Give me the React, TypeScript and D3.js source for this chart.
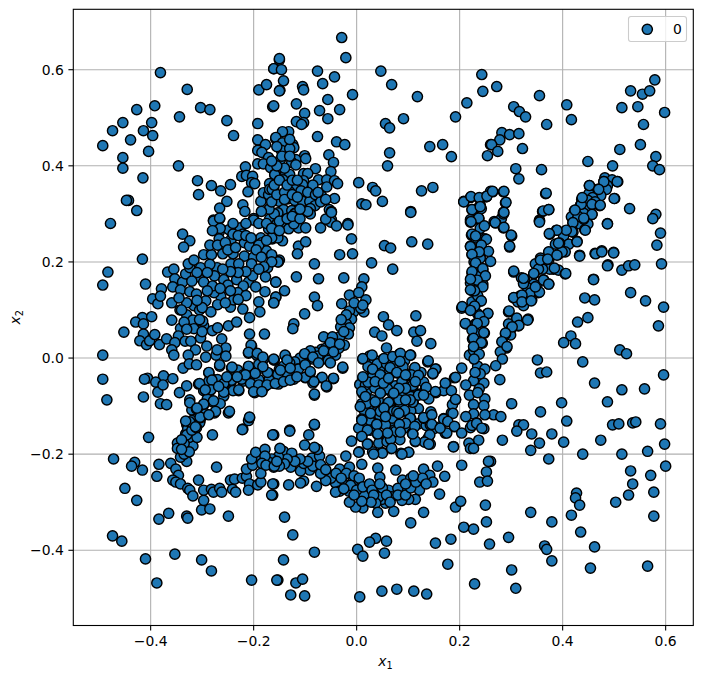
import React from "react";
import * as d3 from "d3";

const seriesLabel = "0";
const xTicks = [-0.4, -0.2, 0, 0.2, 0.4, 0.6];
const yTicks = [-0.4, -0.2, 0, 0.2, 0.4, 0.6];

const upperLeft = [[-.381,.594],[-.329,.559],[-.392,.525],[-.427,.517],[-.303,.521],[-.285,.517],[-.344,.502],[-.454,.49],[-.398,.49],[-.474,.473],[-.414,.473],[-.396,.463],[-.252,.494],[-.239,.463],[-.439,.454],[-.493,.442],[-.404,.43],[-.454,.417],[-.454,.395],[-.346,.4],[-.415,.375],[-.309,.369],[-.307,.34],[-.282,.359],[-.264,.348],[-.245,.361],[-.443,.328],[-.447,.328],[-.427,.307],[-.252,.326],[-.266,.312],[-.221,.319],[-.217,.305],[-.478,.28],[-.278,.287],[-.266,.29],[-.2,.29],[-.216,.398],[-.192,.488],[-.192,.454],[-.177,.444],[-.192,.432],[-.184,.428],[-.171,.417],[-.192,.404],[-.181,.404],[-.167,.396],[-.159,.382],[-.223,.378],[-.214,.38],[-.202,.378],[-.204,.365],[-.198,.363],[-.211,.346],[-.186,.326],[-.181,.344],[-.169,.363],[-.171,.34],[-.161,.353],[-.169,.351],[-.163,.523],[-.19,.558],[-.175,.569],[-.161,.602],[-.15,.62],[-.149,.557],[-.157,.456]];

const upperMiddle = [[-.029,.667],[-.021,.625],[-.15,.623],[-.161,.602],[-.146,.6],[-.142,.577],[-.15,.556],[-.076,.597],[-.043,.585],[-.066,.571],[-.105,.565],[-.103,.558],[-.056,.538],[-.008,.548],[-.117,.529],[-.161,.525],[-.072,.515],[-.033,.517],[-.101,.509],[-.056,.498],[-.117,.492],[-.103,.49],[-.107,.486],[-.132,.471],[-.144,.471],[-.157,.459],[-.076,.461],[-.039,.45],[-.023,.444],[-.144,.448],[-.146,.432],[-.124,.444],[-.122,.438],[-.13,.436],[-.054,.423],[-.148,.413],[-.101,.421],[-.118,.413],[-.099,.415],[-.126,.407],[-.118,.402],[-.045,.407],[-.08,.394],[-.05,.388],[-.159,.382],[-.138,.386],[-.103,.384],[-.095,.384],[-.13,.382],[-.143,.371],[-.103,.369],[-.074,.371],[-.058,.371],[-.043,.369],[-.037,.363],[-.058,.356],[-.087,.357],[-.105,.361],[-.118,.353],[-.13,.346],[-.108,.348],[-.068,.337],[-.043,.332],[-.164,.351],[-.15,.326],[-.134,.331],[-.12,.328],[-.105,.326],[-.091,.326],[-.081,.317],[-.09,.311],[-.053,.309],[-.049,.305],[-.142,.309],[-.126,.307],[-.12,.301],[-.154,.301],[-.059,.288],[-.049,.288],[-.017,.28],[.047,.597],[.068,.569],[.118,.544],[.214,.531],[.245,.555],[.243,.59],[.192,.502],[.091,.498],[.056,.488],[.064,.479],[.167,.444],[.142,.44],[.184,.419],[.064,.427],[.06,.4],[.254,.421],[.26,.444],[.004,.365],[.031,.355],[.037,.348],[.126,.348],[.148,.355],[.01,.321],[.018,.319],[.05,.326],[.105,.305],[.208,.326],[.221,.334],[.224,.309],[.239,.332],[.237,.313],[.24,.318],[.252,.336],[.221,.288],[.237,.29],[.26,.347]];

const upperRight = [[.272,.565],[.355,.546],[.408,.527],[.305,.523],[.316,.513],[.328,.502],[.417,.496],[.369,.486],[.282,.469],[.297,.465],[.315,.467],[.278,.454],[.262,.444],[.322,.436],[.274,.43],[.309,.394],[.315,.373],[.359,.392],[.449,.409],[.497,.4],[.511,.434],[.551,.444],[.581,.419],[.575,.4],[.588,.392],[.579,.579],[.532,.556],[.555,.549],[.569,.556],[.515,.521],[.546,.523],[.598,.511],[.557,.486],[.367,.342],[.501,.332],[.53,.311],[.373,.309],[.361,.305],[.355,.287],[.487,.28],[.581,.299],[.575,.29],[.264,.346],[.285,.346],[.252,.336],[.289,.323],[.285,.303],[.267,.284],[.281,.29],[.242,.311]];

const diagonalBand = [[.482,.375],[.496,.371],[.507,.367],[.48,.367],[.452,.359],[.468,.351],[.487,.359],[.485,.351],[.451,.342],[.474,.338],[.437,.33],[.458,.334],[.435,.319],[.458,.319],[.472,.317],[.445,.311],[.423,.307],[.457,.299],[.441,.301],[.417,.294],[.429,.29],[.449,.328],[.463,.325],[.42,.281],[.433,.279],[.443,.267],[.449,.279],[.441,.289],[.43,.295],[.42,.262],[.406,.262],[.375,.258],[.388,.266],[.402,.254],[.412,.237],[.386,.237],[.394,.239],[.405,.221],[.391,.215],[.373,.22],[.373,.204],[.357,.208],[.355,.2],[.347,.196],[.382,.185],[.375,.185],[.392,.183],[.405,.175],[.361,.185],[.353,.185],[.363,.163],[.373,.154],[.344,.175],[.344,.154],[.353,.136],[.338,.133],[.332,.146],[.32,.117],[.305,.125],[.317,.129],[.313,.117],[.324,.109],[.34,.121],[.35,.15],[.305,.179],[.32,.167],[.326,.163],[.324,.155],[.295,.096],[.31,.081],[.314,.067],[.295,.071],[.301,.063],[.299,.048],[.289,.05],[.283,.034],[.291,.021],[.279,.013],[.283,-.002],[.27,-.016]];

const diagonalExtra = [[.452,.359],[.48,.367],[.506,.367],[.47,.351],[.436,.32],[.438,.334],[.457,.32],[.473,.318],[.5,.332],[.424,.308],[.457,.299],[.441,.291],[.42,.282],[.418,.263],[.444,.266],[.428,.243],[.407,.266],[.399,.221],[.389,.266],[.374,.259],[.392,.239],[.373,.221],[.357,.204],[.371,.206],[.389,.214],[.406,.176],[.384,.187],[.363,.162],[.373,.154],[.344,.176],[.305,.181],[.324,.166],[.337,.135],[.355,.137],[.347,.148],[.305,.126],[.321,.131],[.321,.117],[.339,.119],[.296,.098],[.333,.081],[.311,.083],[.315,.068],[.302,.065],[.289,.052],[.282,.034],[.292,.024],[.368,.343],[.362,.306],[.373,.309],[.355,.285],[.433,.214],[.463,.218],[.476,.223],[.499,.22],[.488,.194],[.46,.164]];

const rightSparse = [[.59,.26],[.583,.235],[.487,.279],[.355,.283],[.27,.281],[.285,.271],[.301,.254],[.297,.231],[.285,.3],[.428,.242],[.433,.212],[.464,.217],[.476,.221],[.499,.219],[.487,.192],[.515,.183],[.528,.192],[.54,.194],[.592,.196],[.46,.163],[.532,.136],[.561,.119],[.596,.106],[.443,.125],[.462,.121],[.449,.084],[.429,.075],[.586,.067],[.332,.079],[.416,.046],[.402,.032],[.425,.03],[.511,.017],[.524,.009],[.351,-.004],[.439,-.008],[.357,-.031],[.369,-.029],[.596,-.035],[.462,-.052],[.278,-.045],[.559,-.064],[.515,-.066],[.301,-.095],[.487,-.091],[.398,-.093],[.357,-.112],[.408,-.131],[.266,-.118],[.28,-.122],[.315,-.139],[.324,-.139],[.497,-.139],[.509,-.137],[.536,-.135],[.542,-.133],[.59,-.137]];

const lowerRight = [[.283,-.171],[.311,-.152],[.34,-.158],[.355,-.177],[.379,-.158],[.402,-.175],[.474,-.171],[.439,-.2],[.338,-.192],[.373,-.21],[.515,-.2],[.565,-.194],[.598,-.179],[.6,-.225],[.532,-.235],[.571,-.244],[.536,-.262],[.528,-.285],[.577,-.279],[.503,-.3],[.427,-.281],[.425,-.291],[.433,-.306],[.417,-.327],[.577,-.329],[.338,-.321],[.379,-.341],[.435,-.362],[.295,-.373],[.365,-.391],[.369,-.398],[.462,-.393],[.379,-.422],[.454,-.437],[.565,-.433],[.301,-.441],[.309,-.479],[.26,-.215]];

const verticalBand = [[.221,.283],[.237,.29],[.223,.256],[.237,.254],[.231,.25],[.24,.27],[.249,.248],[.241,.233],[.221,.233],[.224,.215],[.241,.217],[.231,.198],[.245,.183],[.224,.177],[.233,.158],[.221,.156],[.245,.154],[.225,.14],[.229,.138],[.241,.119],[.224,.117],[.229,.106],[.254,.092],[.235,.092],[.24,.086],[.231,.071],[.212,.071],[.241,.075],[.231,.052],[.248,.052],[.225,.04],[.244,.031],[.233,.021],[.219,.006],[.227,.016],[.235,-.017],[.204,-.021],[.249,-.023],[.227,-.047],[.247,-.052],[.212,-.056],[.238,-.064],[.219,-.077],[.249,-.085],[.235,-.072],[.227,-.097],[.247,-.099],[.249,-.118],[.227,-.116],[.212,-.122],[.233,-.135],[.221,-.145],[.247,-.147],[.204,.104],[.222,.1],[.235,.13],[.228,.165],[.238,.17],[.228,.2],[.24,.208],[.228,.225],[.232,.03],[.238,.008],[.228,-.002],[.24,-.033],[.23,-.03]];

const verticalExtra = [[.208,.325],[.222,.336],[.238,.334],[.253,.337],[.264,.347],[.286,.347],[.29,.324],[.286,.303],[.269,.282],[.286,.272],[.3,.256],[.297,.233],[.224,.309],[.24,.315],[.237,.291],[.222,.284],[.248,.275],[.224,.258],[.231,.254],[.252,.247],[.242,.235],[.221,.232],[.256,.222],[.238,.221],[.224,.216],[.26,.201],[.231,.198],[.245,.186],[.224,.18],[.25,.171],[.234,.162],[.221,.164],[.245,.148],[.229,.14],[.221,.142],[.242,.119],[.229,.108],[.205,.107],[.221,.099],[.255,.093],[.239,.088],[.211,.072],[.247,.076],[.234,.072],[.224,.058],[.247,.053],[.227,.041],[.242,.032],[.227,.024]];

const centreArc = [[.105,.303],[.054,.234],[.066,.229],[.107,.242],[.138,.237],[-.017,.277],[-.01,.248],[-.008,.217],[-.033,.215],[.029,.198],[.07,.185],[-.082,.196],[-.025,.167],[-.074,.165],[-.117,.169],[-.157,.158],[-.14,.14],[-.157,.127],[-.161,.115],[-.082,.127],[-.076,.109],[-.029,.113],[-.014,.131],[-.101,.092],[-.122,.071],[-.124,.061],[.014,.165],[.01,.148],[.004,.136],[.018,.121],[.014,.096],[-.006,.096],[-.014,.098],[.008,.104],[-.01,.081],[-.02,.071],[-.014,.063],[-.031,.065],[-.016,.05],[-.033,.044],[-.035,.027],[-.052,.034],[-.064,.044],[-.047,.044],[-.024,.027],[-.064,.012],[-.052,.006],[-.068,.018],[-.041,.006],[-.101,.006],[-.085,-.002],[-.138,.004],[-.16,-.004],[.052,.086],[.062,.069],[.078,.057],[.115,.088],[.111,.054],[.124,.057],[.117,.035],[.144,.03],[.035,.054],[.049,.046],[.058,.021],[-.027,-.021],[-.045,-.043],[-.068,-.041],[-.058,-.06],[-.082,-.077],[-.082,-.139],[-.13,-.15],[-.147,.281],[-.132,.269],[-.113,.271],[-.099,.271],[-.122,.279],[-.07,.271],[-.05,.283],[-.06,.289],[-.039,.275],[-.049,.303],[-.09,.3],[-.12,.3],[-.153,.302],[-.144,.244],[-.113,.233],[-.099,.242],[-.115,.217],[-.15,.204],[-.152,.2],[-.157,.258],[-.164,.248],[-.02,.09],[-.03,.08],[-.025,.055],[-.045,.03],[-.06,.02],[-.08,.012],[-.09,.015],[-.11,0],[-.12,-.008],[-.13,-.01],[-.075,.004],[-.055,-.005],[-.035,.02],[-.005,.115],[.012,.11]];

const centreBlock = [[.012,-.002],[.025,.004],[.035,-.004],[.052,-.002],[.068,-.004],[.083,.008],[.105,.006],[.138,-.008],[.113,-.021],[.093,-.006],[.154,-.023],[.148,-.033],[.19,-.041],[.173,-.053],[.154,-.072],[.134,-.062],[.169,-.068],[.184,-.068],[.192,-.087],[.184,-.114],[.186,-.097],[.169,-.126],[.144,-.112],[.13,-.126],[.012,-.041],[.021,-.052],[.029,-.025],[.049,-.025],[.064,-.025],[.078,-.031],[.105,-.037],[.097,-.033],[.116,-.043],[.088,-.05],[.043,-.05],[.06,-.066],[.047,-.072],[.109,-.06],[.091,-.072],[.11,-.093],[.08,-.089],[.064,-.093],[.029,-.089],[.012,-.074],[.01,-.095],[.052,-.106],[.072,-.112],[.093,-.112],[.01,-.128],[.039,-.136],[.064,-.126],[.083,-.139],[.105,-.126],[.12,-.137],[.15,-.147],[.162,-.143],[.023,-.106],[.035,-.114],[.052,-.126],[.015,-.11],[.006,-.055],[.022,-.018],[.04,-.012],[.058,-.012],[.075,-.016],[.09,-.018],[.02,-.068],[.035,-.062],[.075,-.058],[.09,-.052],[.125,-.03],[.13,-.05],[.122,-.075],[.14,-.085],[.105,-.08],[.042,-.088],[.07,-.075],[.03,-.04],[.06,-.045],[.085,-.1],[.12,-.105],[.105,-.11],[.045,-.12],[.025,-.13],[.07,-.14],[.1,-.145],[.135,-.14]];

const centreExtra = [[.012,-.001],[.03,.006],[.053,-.001],[.07,.003],[.085,.01],[.104,.006],[.084,-.007],[.139,-.006],[.113,-.02],[.153,-.023],[.148,-.032],[.192,-.04],[.172,-.052],[.153,-.07],[.135,-.061],[.192,-.086],[.187,-.115],[.169,-.127],[.19,-.143],[.172,-.156],[.188,-.184],[.143,-.139],[.13,-.125],[.143,-.179],[.133,-.174],[.139,-.166],[.114,-.174],[.108,-.156],[.101,-.196],[.086,-.198],[.067,-.188],[.084,-.17],[.065,-.167],[.059,-.162],[.041,-.159],[.022,-.179],[.01,-.163],[.031,-.195],[.049,-.196],[.005,-.195],[.04,-.138],[.084,-.138],[.104,-.125],[.109,-.158],[.073,-.15],[.069,-.125],[.093,-.109],[.072,-.11],[.046,-.111],[.03,-.087],[.01,-.127],[.02,-.094],[.017,-.056],[.022,-.05],[.012,-.039],[.031,-.023],[.046,-.035],[.065,-.02],[.078,-.03],[.088,-.049],[.106,-.035],[.12,-.036],[.109,-.057],[.06,-.064],[.046,-.073],[.082,-.087],[.062,-.092],[.109,-.092],[.13,-.124],[.12,-.077],[.095,-.063],[.13,-.077],[.01,-.07],[.007,-.101],[.027,-.115],[.056,-.139],[.082,-.063],[.072,-.073],[.036,-.049],[.052,-.052],[.062,-.042],[.095,-.035],[.114,-.049],[.017,-.08],[.036,-.091],[.053,-.104],[.078,-.111],[.095,-.136],[.075,-.153],[.056,-.122],[.027,-.15],[.014,-.146],[.043,-.177],[.059,-.174],[.004,-.146],[.146,-.118],[.104,-.087],[.095,-.087],[.082,-.115]];

const lowerArc = [[.01,-.129],[.039,-.138],[.083,-.138],[.113,-.142],[.146,-.138],[.177,-.132],[.19,-.142],[.204,-.156],[.224,-.14],[.233,-.136],[.243,-.146],[.237,-.171],[.218,-.177],[.221,-.188],[.227,-.188],[.188,-.185],[.175,-.156],[.162,-.146],[.142,-.16],[.132,-.175],[.14,-.179],[.114,-.173],[.109,-.158],[.085,-.154],[.066,-.169],[.06,-.156],[.041,-.158],[.021,-.15],[.01,-.163],[-.01,-.173],[.021,-.179],[.05,-.198],[.033,-.2],[.004,-.196],[.101,-.196],[.088,-.2],[.068,-.188],[-.021,-.204],[-.05,-.212],[-.033,-.231],[-.014,-.227],[.01,-.221],[.041,-.229],[.076,-.233],[.045,-.248],[.13,-.231],[.157,-.225],[.142,-.244],[.148,-.258],[.171,-.246],[.161,-.283],[.089,-.254],[.105,-.25],[.12,-.264],[.093,-.275],[.062,-.275],[.08,-.271],[.122,-.275],[.114,-.294],[.101,-.294],[.088,-.296],[.072,-.319],[.068,-.289],[.056,-.302],[.049,-.294],[.041,-.277],[.043,-.289],[.037,-.302],[.041,-.321],[.023,-.294],[.014,-.285],[.012,-.312],[-.002,-.31],[-.014,-.3],[-.006,-.271],[.004,-.26],[-.008,-.258],[-.027,-.26],[-.041,-.26],[-.033,-.277],[-.015,-.277],[-.041,-.279],[-.064,-.244],[-.078,-.267],[-.047,-.244],[-.091,-.233],[-.109,-.235],[-.128,-.227],[-.148,-.21],[-.142,-.194],[-.126,-.198],[-.103,-.219],[-.087,-.208],[-.072,-.204],[-.101,-.181],[-.076,-.19],[-.082,-.186],[-.161,-.227],[-.103,-.256],[-.109,-.26],[-.132,-.264],[-.161,-.262],[-.163,-.285],[-.161,-.16],[-.13,-.152],[-.093,-.16],[-.082,-.138]];

const lowerArcExtra = [[-.02,-.24],[-.005,-.245],[.005,-.25],[-.012,-.265],[0,-.275],[.012,-.268],[.025,-.262],[.03,-.275],[.033,-.285],[.05,-.27],[.058,-.285],[.065,-.3],[.08,-.285],[.095,-.285],[.105,-.27],[.115,-.258],[.128,-.25],[.135,-.262],[.11,-.245],[.095,-.262],[.045,-.262],[.028,-.3],[.01,-.298],[-.005,-.285],[-.025,-.272],[-.05,-.25],[-.06,-.255],[-.07,-.24],[-.085,-.225],[-.095,-.215],[-.11,-.21],[-.12,-.215],[-.135,-.21],[-.14,-.22],[-.15,-.225],[-.07,-.222],[-.06,-.232],[-.04,-.24],[-.03,-.25],[-.152,-.205],[-.165,-.21],[-.17,-.217],[-.185,-.21]];

const bottomSparse = [[.13,-.321],[.105,-.343],[.058,-.381],[.037,-.375],[.025,-.383],[.054,-.406],[.002,-.398],[.012,-.412],[.153,-.385],[.183,-.377],[.208,-.352],[.227,-.356],[.192,-.31],[.202,-.298],[.204,-.223],[.252,-.237],[.239,-.258],[.254,-.256],[.25,-.306],[.252,-.341],[.258,-.387],[.177,-.429],[.229,-.47],[.136,-.491],[.111,-.485],[.078,-.481],[.049,-.485],[.006,-.497],[-.101,-.495],[-.128,-.493],[-.118,-.468],[-.105,-.46],[-.153,-.462],[-.142,-.42],[-.082,-.404],[-.124,-.368],[-.14,-.331],[.256,-.215]];

const lowerLeft = [[-.404,-.165],[-.472,-.21],[-.431,-.217],[-.437,-.225],[-.416,-.233],[-.384,-.221],[-.388,-.246],[-.45,-.271],[-.427,-.296],[-.474,-.37],[-.456,-.381],[-.41,-.418],[-.353,-.408],[-.388,-.468],[-.365,-.323],[-.384,-.335],[-.33,-.329],[-.328,-.333],[-.301,-.316],[-.285,-.314],[-.297,-.296],[-.249,-.329],[-.301,-.42],[-.282,-.443],[-.204,-.462],[-.155,-.462],[-.361,-.219],[-.351,-.231],[-.346,-.244],[-.357,-.254],[-.351,-.258],[-.342,-.262],[-.328,-.271],[-.324,-.275],[-.318,-.287],[-.307,-.254],[-.297,-.275],[-.282,-.273],[-.278,-.279],[-.266,-.271],[-.262,-.279],[-.245,-.254],[-.237,-.252],[-.241,-.273],[-.235,-.279],[-.222,-.25],[-.214,-.246],[-.208,-.262],[-.21,-.275],[-.192,-.264],[-.186,-.258],[-.186,-.24],[-.214,-.231],[-.202,-.223],[-.204,-.21],[-.196,-.196],[-.178,-.19],[-.178,-.204],[-.184,-.219],[-.176,-.223],[-.16,-.225],[-.155,-.215],[-.163,-.262],[-.165,-.285],[-.272,-.227],[-.28,-.16],[-.221,-.148],[-.163,-.16],[-.33,-.215],[-.342,-.206],[-.318,-.183],[-.334,-.192],[-.348,-.177],[-.348,-.188],[-.332,-.158],[-.315,-.158],[-.314,-.144],[-.33,-.138],[-.328,-.147],[-.325,-.165],[-.335,-.178],[-.149,-.188],[-.21,-.13],[-.304,-.13],[-.31,-.12],[-.32,-.13],[-.305,-.135],[-.32,-.108],[-.33,-.16],[-.34,-.17],[-.31,-.165],[-.32,-.15],[-.335,-.2],[-.325,-.195],[-.34,-.19]];

const middleLeft = [[-.416,.206],[-.483,.179],[-.493,.152],[-.41,.154],[-.396,.123],[-.386,.113],[-.379,.144],[-.381,.129],[-.367,.179],[-.355,.185],[-.353,.165],[-.357,.148],[-.338,.158],[-.332,.175],[-.324,.188],[-.327,.196],[-.316,.204],[-.338,.258],[-.324,.244],[-.336,.231],[-.342,.142],[-.324,.138],[-.359,.115],[-.343,.1],[-.33,.09],[-.316,.109],[-.305,.1],[-.416,.084],[-.398,.086],[-.429,.075],[-.414,.071],[-.452,.054],[-.414,.05],[-.421,.036],[-.408,.028],[-.402,.036],[-.392,.049],[-.383,.028],[-.369,.04],[-.359,.079],[-.342,.062],[-.346,.046],[-.353,.032],[-.359,.017],[-.355,.006],[-.333,.035],[-.322,.035],[-.303,.042],[-.313,.017],[-.291,.025],[-.327,.006],[-.337,-.021],[-.325,-.012],[-.311,-.014],[-.318,.079],[-.316,.061],[-.297,.067],[-.299,.077],[-.28,.057],[-.27,.063],[-.249,.067],[-.233,.075],[-.208,.084],[-.262,.04],[-.208,.05],[-.179,.05],[-.254,.021],[-.204,.025],[-.21,.01],[-.194,.006],[-.181,-.002],[-.161,-.004],[-.293,.002],[-.273,.006],[-.254,.004],[-.271,.017],[-.493,.006],[-.493,-.044],[-.485,-.087],[-.406,-.042],[-.412,-.044],[-.375,-.037],[-.357,-.043],[-.39,-.05],[-.386,-.071],[-.376,-.056],[-.414,-.081],[-.381,-.095],[-.369,-.097],[-.344,-.072],[-.33,-.058],[-.324,-.087],[-.324,-.093],[-.307,-.054],[-.297,-.068],[-.287,-.031],[-.266,-.017],[-.243,-.021],[-.28,-.091],[-.297,-.097],[-.311,-.106],[-.293,-.116],[-.303,-.124],[-.276,-.114],[-.249,-.114],[-.208,-.124],[-.222,-.149],[-.324,-.133],[-.332,-.131],[-.311,-.145]];

const middleCluster = [[-.278,.285],[-.266,.291],[-.2,.287],[-.169,.289],[-.155,.279],[-.171,.269],[-.186,.25],[-.184,.24],[-.175,.223],[-.153,.25],[-.248,.267],[-.226,.271],[-.221,.258],[-.267,.262],[-.267,.248],[-.243,.248],[-.24,.258],[-.218,.24],[-.208,.233],[-.26,.217],[-.297,.215],[-.282,.215],[-.24,.217],[-.218,.212],[-.2,.21],[-.244,.196],[-.229,.196],[-.204,.196],[-.173,.188],[-.153,.2],[-.303,.188],[-.271,.188],[-.307,.169],[-.297,.158],[-.276,.171],[-.258,.163],[-.233,.163],[-.21,.158],[-.202,.171],[-.177,.169],[-.157,.158],[-.25,.152],[-.22,.15],[-.231,.136],[-.196,.148],[-.178,.138],[-.157,.127],[-.161,.115],[-.264,.129],[-.277,.136],[-.293,.119],[-.311,.133],[-.27,.111],[-.283,.096],[-.245,.106],[-.239,.121],[-.221,.102],[-.19,.117],[-.188,.096],[-.215,.13]];

const middleClusterExtra = [[-.285,.235],[-.27,.235],[-.255,.24],[-.25,.225],[-.235,.23],[-.23,.255],[-.215,.255],[-.205,.25],[-.19,.235],[-.195,.225],[-.185,.21],[-.165,.215],[-.165,.2],[-.18,.19],[-.19,.185],[-.215,.18],[-.23,.178],[-.245,.18],[-.26,.185],[-.285,.195],[-.29,.178],[-.31,.178],[-.32,.16],[-.28,.15],[-.265,.145],[-.245,.14],[-.23,.122],[-.255,.115],[-.29,.14],[-.3,.105],[-.31,.12],[-.33,.115],[-.345,.125],[-.335,.075],[-.33,.06],[-.3,.055],[-.305,.08],[-.34,.1],[-.265,.27],[-.28,.265],[-.24,.28],[-.215,.28],[-.19,.28],[-.175,.28],[-.165,.25],[-.16,.3],[-.17,.31],[-.185,.305],[-.165,.325],[-.155,.34],[-.14,.345],[-.14,.33],[-.125,.34],[-.115,.335],[-.16,.36],[-.15,.37],[-.135,.36],[-.125,.37],[-.115,.37],[-.14,.395],[-.155,.4],[-.165,.41],[-.145,.42],[-.13,.42],[-.155,.44],[-.13,.455],[-.085,.36],[-.095,.345],[-.08,.34],[-.07,.325],[-.06,.33],[-.075,.345],[-.15,.285],[-.135,.29],[-.125,.295],[-.11,.29],[-.165,.27],[-.095,.305],[-.11,.31],[-.15,.265],[-.175,.245]];

const middleBand = [[-.231,-.025],[-.21,-.019],[-.183,-.021],[-.169,-.033],[-.15,-.023],[-.161,-.052],[-.179,-.06],[-.204,-.052],[-.221,-.048],[-.243,-.048],[-.258,-.058],[-.229,-.068],[-.198,-.072],[-.184,-.068],[-.285,-.068],[-.258,-.079],[-.24,-.068],[-.28,-.044],[-.287,-.048],[-.152,-.054],[-.2,-.033],[-.19,-.013],[-.153,-.035],[-.132,-.044],[-.138,-.029],[-.115,-.023],[-.099,-.041],[-.085,-.052],[-.091,-.033],[-.161,-.052],[-.142,-.017],[-.122,-.044],[-.22,-.035],[-.17,-.045],[-.19,-.045],[-.27,-.045],[-.265,-.095],[-.29,-.085]];

const middleBandExtra = [[-.205,.027],[-.21,.012],[-.193,.01],[-.182,.002],[-.161,-.002],[-.139,.006],[-.135,-.004],[-.101,.009],[-.085,.002],[-.064,.015],[-.051,.032],[-.033,.029],[-.045,.013],[-.074,-.01],[-.051,-.01],[-.027,-.019],[-.067,-.04],[-.045,-.042],[-.059,-.058],[-.082,-.075],[-.247,-.111],[-.208,-.123],[-.083,-.049],[-.1,-.04],[-.113,-.023],[-.135,-.035],[-.153,-.034],[-.173,-.03],[-.182,-.018],[-.21,-.017],[-.242,-.019],[-.266,-.014],[-.287,-.03],[-.305,-.053],[-.281,-.046],[-.243,-.046],[-.258,-.053],[-.223,-.044],[-.206,-.053],[-.229,-.066],[-.283,-.066],[-.258,-.071],[-.278,-.089],[-.297,-.096],[-.274,-.111],[-.304,-.123],[-.313,-.143],[-.19,-.056],[-.174,-.056],[-.158,-.053],[-.142,-.049],[-.129,-.046],[-.116,-.039],[-.2,-.07],[-.184,-.07],[-.148,-.025],[-.129,-.021],[-.1,-.014],[-.09,-.028],[-.197,-.032],[-.216,-.035],[-.232,-.039],[-.252,-.039],[-.268,-.059],[-.294,-.066],[-.31,-.104],[-.287,-.118]];

const samples = [...upperLeft, ...upperMiddle, ...upperRight, ...diagonalBand, ...diagonalExtra, ...rightSparse, ...lowerRight, ...verticalBand, ...verticalExtra, ...centreArc, ...centreBlock, ...centreExtra, ...lowerArc, ...lowerArcExtra, ...bottomSparse, ...lowerLeft, ...middleLeft, ...middleCluster, ...middleClusterExtra, ...middleBand, ...middleBandExtra];

const W = 703, H = 679;
const L = 73.3, R = 693.3, T = 9.3, B = 625.5;
const x = d3.scaleLinear().domain([-0.5502, 0.6537]).range([L, R]);
const y = d3.scaleLinear().domain([-0.5565, 0.7257]).range([B, T]);
const fontFamily = "'DejaVu Sans', sans-serif";
const fmt = (v: number) => (v < 0 ? "\u2212" : "") + Math.abs(v).toFixed(1);

export default function App() {
  return (
    <svg width={W} height={H} viewBox={`0 0 ${W} ${H}`} style={{ position: "absolute", left: 0, top: 0, display: "block" }} fontFamily={fontFamily}>
      <rect width={W} height={H} fill="#fff" />
      {xTicks.map((t) => (
        <line key={t} x1={x(t)} x2={x(t)} y1={T} y2={B} stroke="#b0b0b0" strokeWidth={1.1} />
      ))}
      {yTicks.map((t) => (
        <line key={t} x1={L} x2={R} y1={y(t)} y2={y(t)} stroke="#b0b0b0" strokeWidth={1.1} />
      ))}
      {samples.map(([a, b], i) => (
        <circle key={i} cx={x(a)} cy={y(b)} r={5.1} fill="#1f77b4" stroke="#000" strokeWidth={1.45} />
      ))}
      <rect x={L} y={T} width={R - L} height={B - T} fill="none" stroke="#000" strokeWidth={1.1} />
      {xTicks.map((t) => (
        <g key={t}>
          <line x1={x(t)} x2={x(t)} y1={B} y2={B + 4.9} stroke="#000" strokeWidth={1.1} />
          <text x={x(t)} y={B + 20} textAnchor="middle" fontSize={13.9} fill="#000">{fmt(t)}</text>
        </g>
      ))}
      {yTicks.map((t) => (
        <g key={t}>
          <line x1={L - 4.9} x2={L} y1={y(t)} y2={y(t)} stroke="#000" strokeWidth={1.1} />
          <text x={L - 9.5} y={y(t) + 5} textAnchor="end" fontSize={13.9} fill="#000">{fmt(t)}</text>
        </g>
      ))}
      <text x={(L + R) / 2 - 5} y={666} fontSize={13.9} fontStyle="italic" fill="#000">x<tspan dy={3} fontSize={9.7} fontStyle="normal">1</tspan></text>
      <text transform={`translate(20,${(T + B) / 2 + 7}) rotate(-90)`} fontSize={13.9} fontStyle="italic" fill="#000">x<tspan dy={3} fontSize={9.7} fontStyle="normal">2</tspan></text>
      <rect x={628.5} y={16.5} width={58} height={25} rx={2.5} fill="#fff" fillOpacity={0.8} stroke="#ccc" strokeWidth={1.1} />
      <circle cx={647.3} cy={29.3} r={5.1} fill="#1f77b4" stroke="#000" strokeWidth={1.45} />
      <text x={673} y={34.3} fontSize={13.9} fill="#000">{seriesLabel}</text>
    </svg>
  );
}
